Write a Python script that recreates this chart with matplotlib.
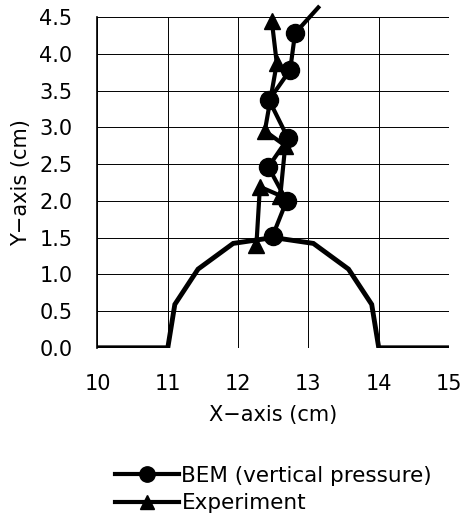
import numpy as np
import matplotlib
matplotlib.use('Agg')
import matplotlib.pyplot as plt

plt.rcParams['font.family'] = ['DejaVu Sans']

# Ground profile (surface of the mound)
ground_x = [10, 11.0, 11.1, 11.43, 11.93, 12.5, 13.07, 13.57, 13.9, 14.0, 15]
ground_y = [0, 0, 0.59, 1.07, 1.42, 1.5, 1.42, 1.07, 0.59, 0, 0]

# BEM (vertical pressure)
bem_x = [12.49, 12.69, 12.43, 12.71, 12.44, 12.74, 12.81, 13.14]
bem_y = [1.52, 2.0, 2.46, 2.85, 3.37, 3.78, 4.28, 4.63]

# Experiment
exp_x = [12.26, 12.31, 12.6, 12.67, 12.38, 12.55, 12.48]
exp_y = [1.40, 2.19, 2.07, 2.75, 2.95, 3.87, 4.44]

fig = plt.figure(figsize=(4.62, 5.16), dpi=100)
ax = fig.add_axes([0.211, 0.326, 0.761, 0.641])

ax.plot(ground_x, ground_y, color='black', lw=3.5, solid_joinstyle='miter', zorder=3)
ax.plot(bem_x, bem_y, color='black', lw=3, marker='o', markersize=13,
        markevery=list(range(len(bem_x) - 1)), clip_on=False, zorder=4,
        label='BEM (vertical pressure)')
ax.plot(exp_x, exp_y, color='black', lw=3, marker='^', markersize=12,
        clip_on=False, zorder=4, label='Experiment')

ax.set_xlim(10, 15)
ax.set_ylim(0, 4.5)
ax.set_xticks(np.arange(10, 16, 1))
ax.set_yticks(np.arange(0, 4.51, 0.5))
ax.set_yticklabels([f'{v:.1f}' for v in np.arange(0, 4.51, 0.5)])
ax.tick_params(length=0, labelsize=15, pad=18)
ax.tick_params(axis='x', pad=19)
ax.grid(True, color='black', lw=0.7)
for side in ['top', 'right', 'bottom']:
    ax.spines[side].set_visible(False)
ax.spines['left'].set_linewidth(1.2)

ax.set_xlabel('X\u2212axis (cm)', fontsize=15, labelpad=8)
ax.set_ylabel('Y\u2212axis (cm)', fontsize=15, labelpad=6)

fig.legend(loc='upper left', bbox_to_anchor=(0.225, 0.118), frameon=False,
           fontsize=15.5, handlelength=3.0, markerscale=0.85, labelspacing=0.35,
           handletextpad=0.1, borderpad=0)

fig.savefig('out.png', dpi=100)
